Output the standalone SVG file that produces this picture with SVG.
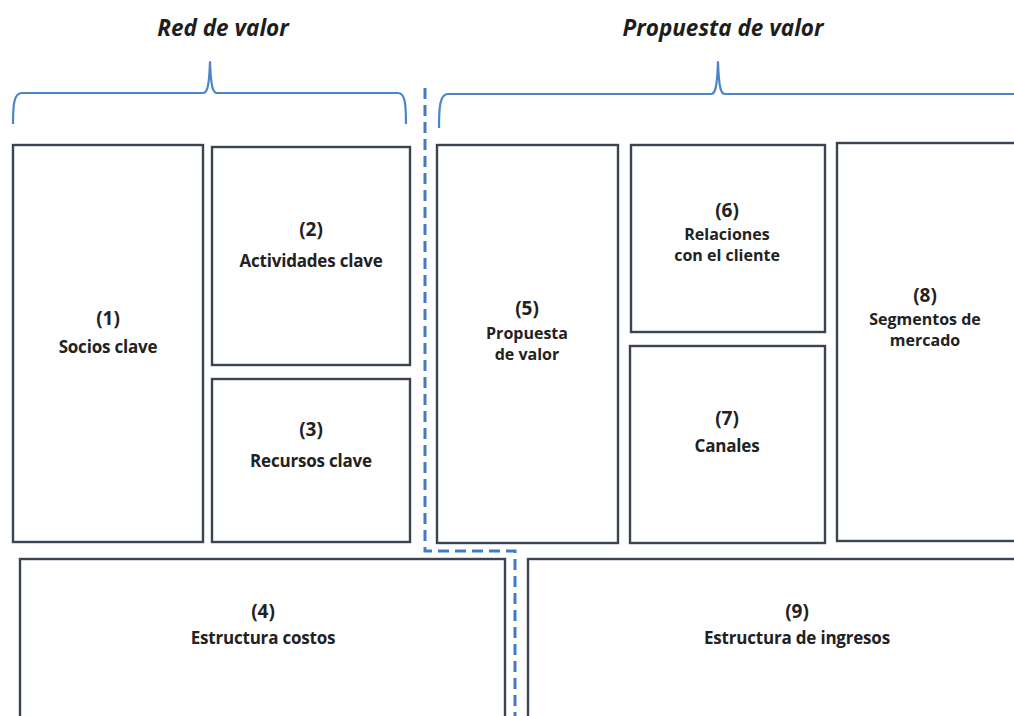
<svg xmlns="http://www.w3.org/2000/svg" width="1014" height="716" viewBox="0 0 1014 716">
  <style>
    .box { fill: #ffffff; stroke: #3b4452; stroke-width: 2.4; }
    .brace { fill: none; stroke: #4a86c6; stroke-width: 2.2; stroke-linejoin: round; }
    .split { fill: none; stroke: #3f7cc4; stroke-width: 3; stroke-dasharray: 11 6; }
    .num { font-family: "Open Sans", "Liberation Sans", sans-serif; font-weight: 700; font-size: 19px; fill: #222222; text-anchor: middle; }
    .lbl { font-family: "Open Sans", "Liberation Sans", sans-serif; font-weight: 700; font-size: 17px; fill: #222222; text-anchor: middle; letter-spacing: -0.2px; }
    .lbl2 { font-family: "Open Sans", "Liberation Sans", sans-serif; font-weight: 700; font-size: 16px; fill: #222222; text-anchor: middle; }
    .title { font-family: "Open Sans", "Liberation Sans", sans-serif; font-weight: 700; font-style: italic; font-size: 22.5px; fill: #1e1e1e; text-anchor: middle; }
  </style>
  <rect width="1014" height="716" fill="#ffffff"/>

  <!-- section headings -->
  <text class="title" x="223" y="36">Red de valor</text>
  <text class="title" x="723" y="36">Propuesta de valor</text>

  <!-- curly braces over each section -->
  <path class="brace" d="M13,124 C13,104 14,93 22,93 L203,93 C207,93 209,88 210,62 C211,88 213,93 217,93 L398,93 C405,93 406,104 406,124"/>
  <path class="brace" d="M439,128 C439,106 440,94 448,94 L711,94 C715,94 717,89 718,62 C719,89 721,94 725,94 L1016,94"/>

  <!-- connectors: dashed divider between value network and value proposition -->
  <g id="connectors">
    <path class="split" d="M425,88 L425,551 L515,551 L515,716"/>
  </g>

  <g id="node1">
    <rect class="box" x="13" y="145" width="190" height="397"/>
    <text class="num" x="108" y="325">(1)</text>
    <text class="lbl" x="108" y="353">Socios clave</text>
  </g>
  <g id="node2">
    <rect class="box" x="212" y="147" width="198" height="218"/>
    <text class="num" x="311" y="236">(2)</text>
    <text class="lbl" x="311" y="267">Actividades clave</text>
  </g>
  <g id="node3">
    <rect class="box" x="212" y="379" width="198" height="163"/>
    <text class="num" x="311" y="436">(3)</text>
    <text class="lbl" x="311" y="467">Recursos clave</text>
  </g>
  <g id="node4">
    <rect class="box" x="20" y="559" width="485" height="170"/>
    <text class="num" x="263" y="618">(4)</text>
    <text class="lbl" x="263" y="644">Estructura costos</text>
  </g>
  <g id="node5">
    <rect class="box" x="437" y="145" width="181" height="398"/>
    <text class="num" x="527" y="315">(5)</text>
    <text class="lbl2" x="527" y="339">Propuesta</text>
    <text class="lbl2" x="527" y="360">de valor</text>
  </g>
  <g id="node6">
    <rect class="box" x="631" y="145" width="194" height="187"/>
    <text class="num" x="727" y="217">(6)</text>
    <text class="lbl2" x="727" y="240">Relaciones</text>
    <text class="lbl2" x="727" y="261">con el cliente</text>
  </g>
  <g id="node7">
    <rect class="box" x="630" y="346" width="195" height="197"/>
    <text class="num" x="727" y="425">(7)</text>
    <text class="lbl" x="727" y="452">Canales</text>
  </g>
  <g id="node8">
    <rect class="box" x="837" y="143" width="190" height="398"/>
    <text class="num" x="925" y="302">(8)</text>
    <text class="lbl2" x="925" y="325">Segmentos de</text>
    <text class="lbl2" x="925" y="346">mercado</text>
  </g>
  <g id="node9">
    <rect class="box" x="528" y="559" width="500" height="170"/>
    <text class="num" x="797" y="618">(9)</text>
    <text class="lbl" x="797" y="644">Estructura de ingresos</text>
  </g>
</svg>
